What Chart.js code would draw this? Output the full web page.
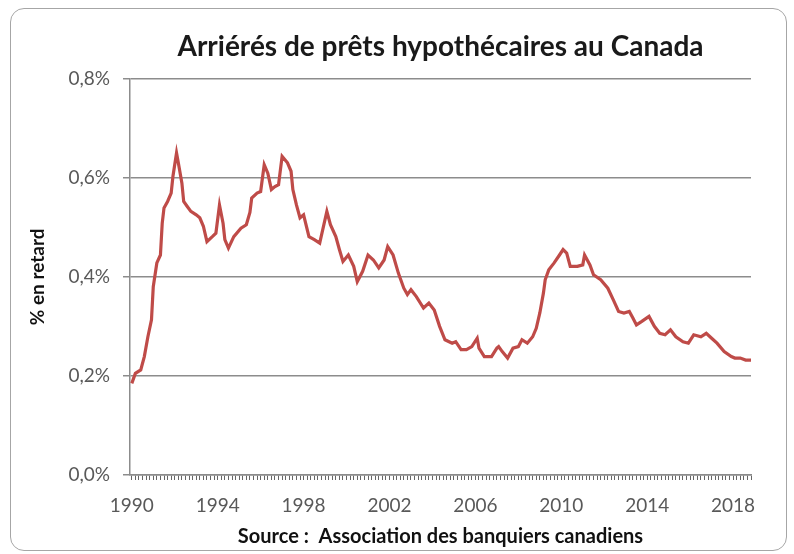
<!DOCTYPE html>
<html><head><meta charset="utf-8">
<script src="https://cdn.jsdelivr.net/npm/chart.js@4.4.1/dist/chart.umd.min.js"></script>
<style>
html,body{margin:0;padding:0;background:#fff;}
#wrap{position:relative;width:794px;height:554px;overflow:hidden;background:#fff;}
#frame{position:absolute;left:10px;top:8px;width:777px;height:543px;border:1.5px solid #a6a6a6;border-radius:14px;box-sizing:border-box;}
canvas{position:absolute;left:0;top:0;}
</style></head>
<body><div id="wrap"><div id="frame"></div><canvas id="c" width="794" height="554"></canvas></div>
<script>
const months = [
 '1990-01','1990-03','1990-06','1990-08','1990-10','1990-12','1991-01','1991-03','1991-05','1991-06',
 '1991-07','1991-09','1991-11','1991-12','1992-02','1992-03','1992-05','1992-06','1992-08','1992-10',
 '1993-01','1993-03','1993-05','1993-07','1993-10','1993-12','1994-02','1994-04','1994-05','1994-07',
 '1994-10','1995-02','1995-05','1995-07','1995-08','1995-11','1996-01','1996-03','1996-05','1996-07',
 '1996-09','1996-11','1997-01','1997-04','1997-06','1997-07','1997-09','1997-11','1998-01','1998-04',
 '1998-07','1998-10','1999-02','1999-04','1999-07','1999-09','1999-11','2000-02','2000-05','2000-07',
 '2000-10','2001-01','2001-04','2001-07','2001-10','2001-12','2002-03','2002-06','2002-09','2002-11',
 '2003-01','2003-04','2003-08','2003-11','2004-02','2004-05','2004-08','2004-12','2005-02','2005-05',
 '2005-08','2005-11','2006-02','2006-03','2006-06','2006-10','2007-01','2007-02','2007-04','2007-07',
 '2007-10','2008-01','2008-03','2008-06','2008-09','2008-11','2009-01','2009-03','2009-04','2009-06',
 '2009-09','2009-12','2010-02','2010-04','2010-06','2010-10','2011-01','2011-02','2011-05','2011-07',
 '2011-11','2012-03','2012-06','2012-09','2012-12','2013-03','2013-05','2013-07','2013-10','2014-02',
 '2014-05','2014-08','2014-11','2015-02','2015-05','2015-09','2015-12','2016-03','2016-07','2016-10',
 '2017-01','2017-04','2017-08','2017-12','2018-02','2018-05','2018-08','2018-11'
];
const arrears = [
 0.185,0.205,0.212,0.239,0.279,0.313,0.380,0.428,0.444,0.508,
 0.539,0.552,0.569,0.603,0.650,0.630,0.589,0.552,0.542,0.532,
 0.525,0.519,0.502,0.471,0.481,0.488,0.545,0.508,0.475,0.458,
 0.481,0.498,0.505,0.530,0.559,0.569,0.572,0.626,0.609,0.576,
 0.582,0.586,0.643,0.630,0.613,0.576,0.545,0.519,0.525,0.481,
 0.475,0.468,0.532,0.505,0.481,0.455,0.431,0.444,0.421,0.390,
 0.411,0.444,0.434,0.418,0.434,0.461,0.444,0.407,0.377,0.364,
 0.374,0.360,0.337,0.347,0.333,0.300,0.273,0.266,0.269,0.253,
 0.253,0.259,0.276,0.256,0.239,0.239,0.256,0.259,0.249,0.236,
 0.256,0.259,0.273,0.266,0.279,0.296,0.327,0.367,0.394,0.414,
 0.428,0.444,0.455,0.448,0.421,0.421,0.424,0.444,0.424,0.404,
 0.394,0.377,0.354,0.330,0.327,0.330,0.317,0.303,0.310,0.320,
 0.300,0.286,0.283,0.293,0.279,0.269,0.266,0.283,0.279,0.286,
 0.276,0.266,0.249,0.239,0.236,0.236,0.232,0.232
];
const tickYears = ['1990','1994','1998','2002','2006','2010','2014','2018'];
const yTickLabels = ['0,0%','0,2%','0,4%','0,6%','0,8%'];
const chartTitle = 'Arriérés de prêts hypothécaires au Canada';
const yAxisTitle = '% en retard';
const xAxisTitle = 'Source :  Association des banquiers canadiens';

const toIndex = s => { const [y, m] = s.split('-').map(Number); return (y - 1990) * 12 + (m - 1); };
const points = months.map((m, i) => ({x: toIndex(m), y: arrears[i]}));
const lastIndex = toIndex(months[months.length - 1]);

const FONT = 'Lato, "Open Sans", sans-serif';
const gridGray = '#8c8c8c';

new Chart(document.getElementById('c'), {
  type: 'line',
  data: { datasets: [{ data: points, borderColor: '#BF4B48', borderWidth: 3.2, pointRadius: 0, tension: 0, fill: false }] },
  options: {
    responsive: false, animation: false, devicePixelRatio: 1,
    layout: { padding: { left: 0, right: 43, top: 0, bottom: 0 } },
    plugins: {
      legend: { display: false }, tooltip: { enabled: false },
      title: { display: true, text: chartTitle, fullSize: false, color: '#1a1a1a',
        font: { family: FONT, size: 28, weight: 'bold' }, padding: { top: 30, bottom: 15 } }
    },
    scales: {
      x: {
        type: 'linear', min: -1, max: lastIndex,
        afterBuildTicks: s => { const t = []; for (let v = 0; v <= lastIndex; v += 2) t.push({ value: v }); s.ticks = t; },
        afterFit: s => { s.height = 79; },
        ticks: { autoSkip: false, maxRotation: 0, minRotation: 0, padding: 14, color: '#595959',
          font: { family: FONT, size: 19 },
          callback: v => (v % 48 === 0 ? tickYears[v / 48] : '') },
        grid: { drawOnChartArea: false, drawTicks: true, tickLength: 5, color: '#666666', lineWidth: 1 },
        border: { display: true, color: gridGray, width: 1.5 },
        title: { display: true, text: xAxisTitle, color: '#111', font: { family: FONT, size: 20, weight: 'bold' }, padding: { top: 2, bottom: 5 } }
      },
      y: {
        min: 0, max: 0.8,
        afterBuildTicks: s => { s.ticks = yTickLabels.map((l, i) => ({ value: i * 0.2 })); },
        afterFit: s => { s.width = 130; },
        ticks: { padding: 13, color: '#595959', font: { family: FONT, size: 19 },
          callback: (v, i) => yTickLabels[i] },
        grid: { color: gridGray, lineWidth: 1.5, tickLength: 7 },
        border: { display: true, color: gridGray, width: 1.5 },
        title: { display: true, text: yAxisTitle, color: '#111', font: { family: FONT, size: 19, weight: 'bold' }, padding: { top: 26, bottom: 0 } }
      }
    }
  }
});
</script>
</body></html>
